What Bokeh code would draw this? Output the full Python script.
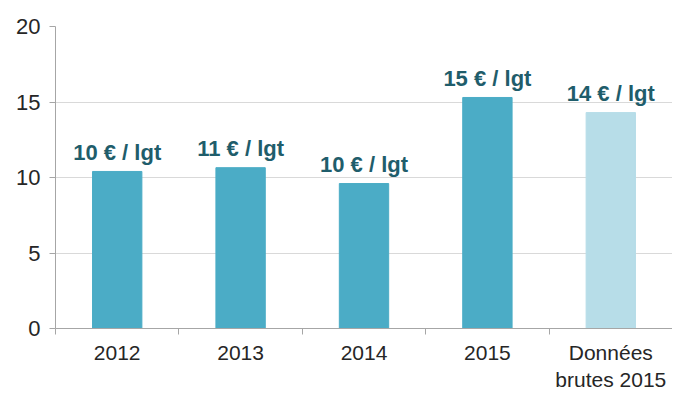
from bokeh.plotting import figure
from bokeh.models import ColumnDataSource, FixedTicker, Range1d
from bokeh.core.properties import value
from bokeh.embed import file_html
from bokeh.resources import INLINE

categories = ["2012", "2013", "2014", "2015", "Données\nbrutes 2015"]
values = [10.4, 10.65, 9.6, 15.3, 14.3]
bar_labels = ["10 € / lgt", "11 € / lgt", "10 € / lgt", "15 € / lgt", "14 € / lgt"]
colors = ["#4bacc6", "#4bacc6", "#4bacc6", "#4bacc6", "#b7dde8"]
y_ticks = [0, 5, 10, 15, 20]

xs = [i + 0.5 for i in range(len(categories))]
src = ColumnDataSource(dict(x=xs, top=values, label=bar_labels, color=colors))

p = figure(width=672, height=394, output_backend="svg", toolbar_location=None,
           x_range=Range1d(0, len(categories)), y_range=Range1d(0, 20),
           min_border_left=55, min_border_right=0, min_border_top=26, min_border_bottom=0)
p.outline_line_color = None

p.vbar(x="x", top="top", width=0.4, color="color", source=src)
p.text(x="x", y="top", text="label", source=src, text_align="center",
       text_baseline="alphabetic", y_offset=-19, text_font=value("Liberation Sans"),
       text_font_style="bold", text_font_size="22px", text_color="#1f5d6b")

p.xaxis.ticker = FixedTicker(ticks=xs, minor_ticks=list(range(len(categories) + 1)))
p.xaxis.major_label_overrides = {x: c for x, c in zip(xs, categories)}
p.xaxis.major_tick_out = 0
p.xaxis.major_tick_in = 0
p.xaxis.minor_tick_out = 6
p.xaxis.minor_tick_in = 0
p.xaxis.minor_tick_line_color = "#a6a6a6"
p.xaxis.axis_line_color = "#a6a6a6"
p.xaxis.major_label_text_font = "Liberation Sans"
p.xaxis.major_label_text_font_size = "21px"
p.xaxis.major_label_text_color = "#262626"
p.xaxis.major_label_standoff = 6

p.yaxis.ticker = FixedTicker(ticks=y_ticks)
p.yaxis.minor_tick_line_color = None
p.yaxis.major_tick_out = 6
p.yaxis.major_tick_in = 0
p.yaxis.major_tick_line_color = "#a6a6a6"
p.yaxis.axis_line_color = "#a6a6a6"
p.yaxis.major_label_text_font = "Liberation Sans"
p.yaxis.major_label_text_font_size = "22px"
p.yaxis.major_label_text_color = "#262626"
p.yaxis.major_label_standoff = 9

p.xgrid.grid_line_color = None
p.ygrid.grid_line_color = "#d9d9d9"

open("out.html", "w").write(file_html(p, INLINE))
